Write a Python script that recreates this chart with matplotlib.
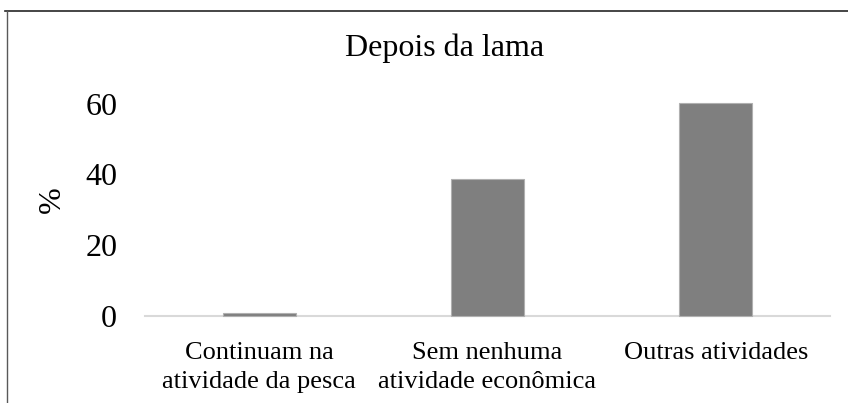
import matplotlib
matplotlib.use("Agg")
import matplotlib.pyplot as plt
from matplotlib.lines import Line2D

categories = ["Continuam na\natividade da pesca", "Sem nenhuma\natividade econômica", "Outras atividades"]
values = [0.7, 38.7, 60.3]
yticks = [0, 20, 40, 60]
title = "Depois da lama"
ylabel = "%"

plt.rcParams['font.family'] = ['Liberation Serif', 'DejaVu Serif']

W, H = 848, 403
fig = plt.figure(figsize=(W / 100, H / 100), dpi=100)

ax_left, ax_right = 145 / W, 830 / W
ax_bottom_px, ax_top_px = 315.7, 68.3
ax = fig.add_axes([ax_left, (H - ax_bottom_px) / H, ax_right - ax_left, (ax_bottom_px - ax_top_px) / H])

x = list(range(len(categories)))
ax.bar(x, values, width=0.32, color='#7f7f7f', edgecolor='#b0b0b0', linewidth=0.8, zorder=3, clip_on=False)
ax.set_xlim(-0.5, len(categories) - 0.5)
ax.set_ylim(0, 70)
ax.set_yticks(yticks)
ax.set_yticklabels([str(t) for t in yticks], fontsize=23)
ax.set_xticks(x)
ax.set_xticklabels(categories, fontsize=19, linespacing=1.38)
ax.tick_params(axis='y', length=0, pad=20)
ax.tick_params(axis='x', length=0, pad=19)
for s in ['top', 'right', 'left']:
    ax.spines[s].set_visible(False)
ax.spines['bottom'].set_color('#d9d9d9')
ax.spines['bottom'].set_linewidth(1.5)
ax.spines['bottom'].set_zorder(2)

fig.text(444.5 / W, (H - 56) / H, title, ha='center', va='baseline', fontsize=23)
fig.text(52 / W, (H - 200) / H, ylabel, ha='center', va='center', rotation=90, fontsize=23)

# figure frame (top and left edges visible)
fig.add_artist(Line2D([5 / W, 1.0], [(H - 11) / H] * 2, transform=fig.transFigure, color='#262626', linewidth=1.2))
fig.add_artist(Line2D([7 / W] * 2, [0, (H - 11) / H], transform=fig.transFigure, color='#595959', linewidth=1.0))

fig.savefig("out.png", dpi=100)
